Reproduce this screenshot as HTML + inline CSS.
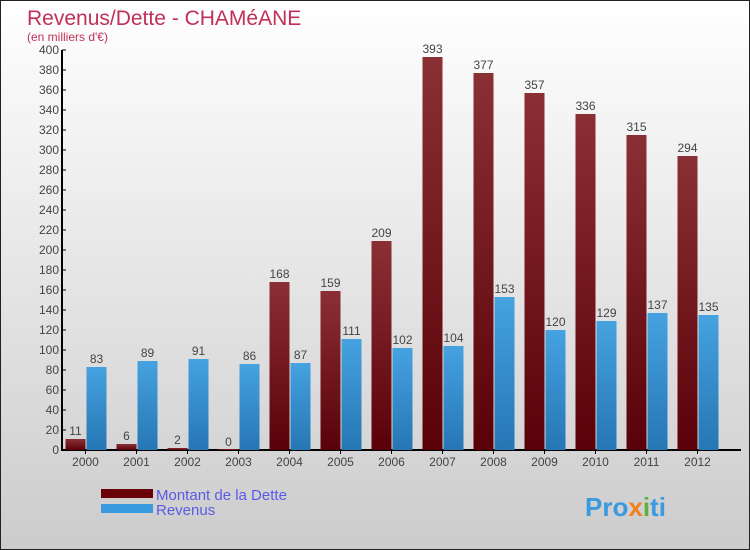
<!DOCTYPE html>
<html><head><meta charset="utf-8"><style>
body{margin:0}
#c{width:748px;height:548px;border:1px solid #222;background:linear-gradient(#fff,#ccc);position:relative;font-family:"Liberation Sans",sans-serif;overflow:hidden}
</style></head><body>
<div id="c">
<svg id="s" width="748" height="548" xmlns="http://www.w3.org/2000/svg">
<defs>
<linearGradient id="gd" x1="0" y1="0" x2="0" y2="1"><stop offset="0" stop-color="#8a3035"/><stop offset="1" stop-color="#5a0008"/></linearGradient>
<linearGradient id="gr" x1="0" y1="0" x2="0" y2="1"><stop offset="0" stop-color="#46a2e0"/><stop offset="1" stop-color="#2676b4"/></linearGradient>
</defs>
<text x="26" y="24" font-size="21" fill="#c0305a">Revenus/Dette - CHAMéANE</text>
<text x="26" y="40" font-size="12" fill="#c0305a">(en milliers d'€)</text>
<g id="plot"></g>
<rect x="100" y="488" width="52" height="9" fill="#6a0008"/>
<text x="155" y="499" font-size="15" fill="#5a5ae8">Montant de la Dette</text>
<rect x="100" y="503" width="52" height="9" fill="#3a9ae0"/>
<text x="155" y="514" font-size="15" fill="#5a5ae8">Revenus</text>
<text x="584" y="515" font-size="26" font-weight="bold" fill="#3a9ae0">Pro<tspan fill="#f08020">x</tspan><tspan fill="#60b040">i</tspan>ti</text>
</svg>
</div>
<script>
const years=["2000","2001","2002","2003","2004","2005","2006","2007","2008","2009","2010","2011","2012"];
const dette=[11,6,2,0,168,159,209,393,377,357,336,315,294];
const revenus=[83,89,91,86,87,111,102,104,153,120,129,137,135];
const yTicks=[0,20,40,60,80,100,120,140,160,180,200,220,240,260,280,300,320,340,360,380,400];
const NS="http://www.w3.org/2000/svg";
const g=document.getElementById('plot');
const y0=449,yMax=400,ph=400;
function ys(v){return y0-v/yMax*ph;}
function xs(i){return 84.5+i*51;}
function mk(t,a){const e=document.createElementNS(NS,t);for(const k in a)e.setAttribute(k,a[k]);g.appendChild(e);return e;}
let ax=mk('line',{x1:61,y1:ys(400),x2:61,y2:y0,stroke:'#000','stroke-width':2});


let bx=mk('line',{x1:60,y1:y0,x2:740,y2:y0,stroke:'#000','stroke-width':2});


yTicks.forEach(v=>{
 let t=mk('line',{x1:61,x2:65,y1:ys(v),y2:ys(v),stroke:'#000'});
 
 
 let l=mk('text',{x:58,y:ys(v)+4,'text-anchor':'end','font-size':12,fill:'#444'});
 l.textContent=v;
 
 
});
years.forEach((yr,i)=>{
 const c=xs(i);
 let t=mk('line',{x1:c,x2:c,y1:y0,y2:y0+4,stroke:'#000'});
 
 
 let l=mk('text',{x:c,y:y0+16,'text-anchor':'middle','font-size':12,fill:'#444'});
 l.textContent=yr;
 
 
 const d=dette[i],r=revenus[i];
 let b1=mk('rect',{x:c-20,y:ys(d)-(d===0?1:0),width:20,height:Math.max(1,y0-ys(d)),fill:'url(#gd)'});
 
 
 let v1=mk('text',{x:c-10,y:ys(d)-4,'text-anchor':'middle','font-size':12,fill:'#444'});
 v1.textContent=d;
 
 
 let b2=mk('rect',{x:c+1,y:ys(r),width:20,height:y0-ys(r),fill:'url(#gr)'});
 
 
 let v2=mk('text',{x:c+11,y:ys(r)-4,'text-anchor':'middle','font-size':12,fill:'#444'});
 v2.textContent=r;
 
 
});
</script>
</body></html>
